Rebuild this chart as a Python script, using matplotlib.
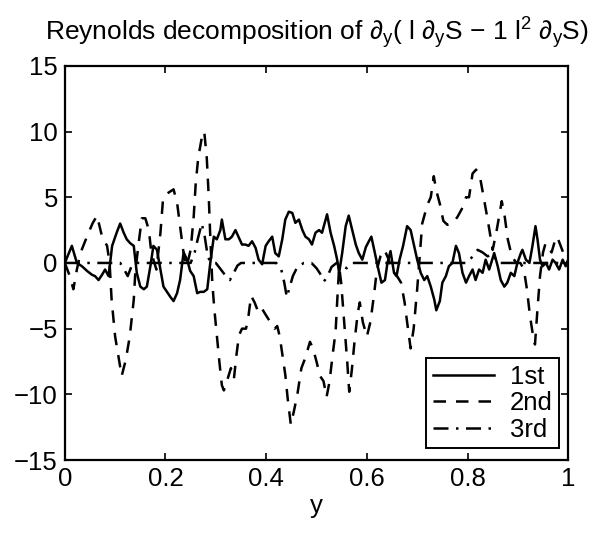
import matplotlib
matplotlib.use("Agg")
import matplotlib.pyplot as plt

plt.rcParams["font.family"] = ["Liberation Sans", "DejaVu Sans"]
plt.rcParams["mathtext.fontset"] = "custom"
plt.rcParams["mathtext.rm"] = "Liberation Sans"
plt.rcParams["mathtext.it"] = "Liberation Sans"
plt.rcParams["mathtext.sf"] = "Liberation Sans"

# ── DATA ─────────────────────────────────────────────────────────────────────

x_first = [0.000, 0.014, 0.024, 0.034, 0.044, 0.054, 0.060, 0.067, 0.074, 0.080,
           0.087, 0.090, 0.094, 0.103, 0.110, 0.117, 0.123, 0.130, 0.137, 0.143,
           0.150, 0.157, 0.163, 0.170, 0.176, 0.183, 0.190, 0.196, 0.203, 0.210,
           0.216, 0.223, 0.229, 0.236, 0.243, 0.249, 0.256, 0.263, 0.269, 0.276,
           0.283, 0.289, 0.296, 0.302, 0.309, 0.312, 0.319, 0.326, 0.332, 0.339,
           0.346, 0.352, 0.359, 0.365, 0.372, 0.379, 0.385, 0.392, 0.399, 0.405,
           0.412, 0.418, 0.425, 0.432, 0.438, 0.445, 0.452, 0.458, 0.465, 0.472,
           0.478, 0.485, 0.491, 0.498, 0.505, 0.511, 0.521, 0.528, 0.535, 0.541,
           0.545, 0.551, 0.558, 0.564, 0.571, 0.578, 0.584, 0.591, 0.598, 0.604,
           0.609, 0.616, 0.623, 0.629, 0.636, 0.641, 0.647, 0.654, 0.659, 0.665,
           0.672, 0.680, 0.687, 0.694, 0.700, 0.707, 0.714, 0.720, 0.727, 0.734,
           0.738, 0.745, 0.750, 0.757, 0.763, 0.770, 0.777, 0.783, 0.790, 0.797,
           0.803, 0.810, 0.816, 0.823, 0.830, 0.836, 0.843, 0.853, 0.860, 0.866,
           0.873, 0.879, 0.886, 0.893, 0.899, 0.906, 0.909, 0.916, 0.923, 0.929,
           0.935, 0.939, 0.944, 0.949, 0.956, 0.962, 0.969, 0.975, 0.982, 0.989,
           0.995, 1.000]
y_first = [0.0, 1.3, 0.0, -0.25, -0.6, -0.9, -1.0, -1.3, -0.9, -0.5,
           -1.0, 0.0, 1.3, 2.3, 3.0, 2.3, 1.8, 1.5, 1.3, -0.75,
           -1.8, -2.0, -1.8, -0.25, 1.3, 1.0, -0.5, -1.8, -2.2, -2.6,
           -2.9, -2.3, -1.3, 0.8, 0.25, -0.6, -1.0, -2.3, -2.2, -2.2,
           -2.0, 0.0, 2.0, 1.8, 2.5, 3.3, 1.8, 1.8, 2.0, 2.5,
           1.9, 1.4, 1.4, 1.3, 1.65, 1.15, 0.25, -0.1, 1.3, 1.65,
           2.0, 0.75, 0.5, 1.8, 3.3, 3.9, 3.8, 3.05, 3.3, 2.5,
           2.0, 1.8, 1.4, 2.3, 2.5, 2.3, 3.7, 2.3, 1.3, 0.25,
           -0.75, 0.75, 2.8, 3.6, 2.5, 1.4, 0.75, 0.25, 1.2, 1.65,
           2.0, 0.75, -0.5, -1.5, -1.3, 0.0, 0.9, -0.75, -1.0, 0.25,
           1.3, 2.8, 2.5, 1.3, 0.25, -0.75, -1.3, -1.0, -1.8, -2.8,
           -3.6, -2.9, -1.5, -1.0, -0.25, 0.0, 1.3, 0.75, -0.75, -1.5,
           -1.0, -0.5, -1.3, -0.5, -0.75, 0.25, -0.5, 0.75, -0.25, -1.3,
           -1.8, -1.5, -0.75, -1.0, 0.0, 0.75, 1.0, 0.25, 0.0, 1.3,
           2.8, 1.8, 0.25, -0.25, 0.0, -0.5, 0.25, 0.0, -0.5, 0.25,
           -0.25, 0.25]

x_second = [0.000, 0.010, 0.017, 0.024, 0.031, 0.044, 0.055, 0.064, 0.074, 0.084,
            0.089, 0.093, 0.100, 0.110, 0.113, 0.121, 0.129, 0.137, 0.140, 0.146,
            0.153, 0.160, 0.167, 0.172, 0.182, 0.190, 0.195, 0.200, 0.216, 0.223,
            0.229, 0.235, 0.242, 0.250, 0.256, 0.260, 0.265, 0.272, 0.277, 0.282,
            0.286, 0.289, 0.293, 0.297, 0.302, 0.307, 0.312, 0.316, 0.322, 0.330,
            0.336, 0.341, 0.346, 0.352, 0.360, 0.365, 0.370, 0.377, 0.385, 0.392,
            0.400, 0.410, 0.417, 0.422, 0.427, 0.432, 0.438, 0.443, 0.449, 0.455,
            0.462, 0.470, 0.478, 0.487, 0.493, 0.500, 0.507, 0.514, 0.520, 0.526,
            0.532, 0.538, 0.541, 0.545, 0.549, 0.553, 0.557, 0.561, 0.565, 0.570,
            0.576, 0.582, 0.586, 0.592, 0.600, 0.607, 0.614, 0.620, 0.627, 0.635,
            0.643, 0.650, 0.660, 0.668, 0.675, 0.680, 0.687, 0.693, 0.700, 0.705,
            0.710, 0.720, 0.727, 0.733, 0.738, 0.745, 0.752, 0.760, 0.770, 0.780,
            0.790, 0.797, 0.803, 0.810, 0.817, 0.825, 0.832, 0.840, 0.850, 0.858,
            0.864, 0.868, 0.874, 0.880, 0.888, 0.897, 0.905, 0.912, 0.918, 0.924,
            0.930, 0.934, 0.939, 0.944, 0.950, 0.955, 0.960, 0.967, 0.973, 0.978,
            0.985, 0.992, 1.000]
y_second = [0.0, -1.0, -2.0, -0.5, 0.75, 2.0, 3.0, 3.6, 2.0, 1.3,
            0.0, -2.8, -5.6, -7.9, -8.6, -7.4, -5.6, -2.8, -0.75, 1.3,
            3.4, 3.4, 2.5, 0.75, -0.5, 2.3, 4.8, 5.2, 5.6, 4.6,
            2.8, 1.0, -0.3, 1.0, 3.5, 6.0, 8.0, 9.5, 10.0, 8.0,
            5.0, 2.0, -1.5, -3.5, -5.5, -7.5, -9.3, -9.7, -9.0, -8.0,
            -8.8, -7.0, -5.5, -5.0, -5.0, -4.0, -2.5, -3.0, -3.8, -3.5,
            -4.0, -4.6, -5.0, -4.8, -5.6, -6.9, -8.5, -10.4, -12.3, -11.3,
            -10.0, -8.0, -7.2, -6.0, -6.5, -7.5, -8.6, -9.0, -10.2, -9.0,
            -7.0, -5.2, -3.0, -0.3, -1.5, -3.5, -5.5, -7.5, -9.8, -8.2,
            -5.8, -3.8, -3.0, -4.5, -5.6, -4.5, -2.5, -0.5, 0.5, 1.0,
            0.3, -0.5, -1.0, -1.5, -3.0, -4.5, -6.5, -5.0, -2.0, 0.5,
            3.0, 4.4, 5.0, 6.6, 5.5, 4.5, 3.2, 2.9, 3.0, 3.5,
            4.2, 5.0, 5.0, 6.8, 7.1, 6.5, 5.0, 3.3, 1.0, 2.5,
            3.8, 4.7, 3.5, 1.8, 0.5, 0.0, 0.0, -0.5, -2.0, -4.0,
            -5.5, -6.2, -3.5, -1.0, 0.8, 1.5, 1.2, 0.8, 1.6, 2.0,
            1.3, 0.6, 0.0]

x_third = [0.000, 0.020, 0.040, 0.060, 0.080, 0.100, 0.110, 0.118, 0.125, 0.132,
           0.140, 0.160, 0.180, 0.200, 0.220, 0.240, 0.250, 0.258, 0.264, 0.272,
           0.278, 0.284, 0.290, 0.300, 0.310, 0.320, 0.328, 0.335, 0.343, 0.350,
           0.370, 0.390, 0.420, 0.430, 0.436, 0.441, 0.447, 0.453, 0.462, 0.475,
           0.490, 0.500, 0.507, 0.515, 0.522, 0.530, 0.540, 0.550, 0.560, 0.570,
           0.600, 0.650, 0.700, 0.750, 0.800, 0.810, 0.820, 0.830, 0.840, 0.850,
           0.860, 0.900, 0.950, 1.000]
y_third = [0.0, 0.0, 0.0, 0.0, 0.0, 0.0, 0.0, -0.5, -1.0, -0.3,
           0.0, 0.0, 0.0, 0.0, 0.0, 0.0, 0.0, 0.8, 1.8, 3.0,
           2.0, 0.5, 0.0, 0.0, -0.5, -1.0, -1.3, -0.8, -0.2, 0.0,
           0.0, 0.0, 0.0, -0.5, -1.5, -2.6, -1.8, -1.0, -0.3, 0.0,
           0.0, -0.4, -0.8, -1.4, -1.0, -0.3, 0.0, -0.2, -0.4, 0.0,
           0.0, 0.0, 0.0, 0.0, 0.0, 0.5, 1.0, 0.8, 0.5, 0.7,
           0.0, 0.0, 0.0, 0.0]

series_labels = ["1st", "2nd", "3rd"]
x_ticks = [0, 0.2, 0.4, 0.6, 0.8, 1]
x_ticklabels = ["0", "0.2", "0.4", "0.6", "0.8", "1"]
y_ticks = [-15, -10, -5, 0, 5, 10, 15]

# ── PLOT ──────────────────────────────────────────────────────────────────────

fig = plt.figure(figsize=(6.0, 5.35), dpi=100)
ax = fig.add_axes([0.108, 0.140, 0.839, 0.737])

ax.plot(x_first, y_first, color="black", lw=1.8, ls="-", label=series_labels[0])
ax.plot(x_second, y_second, color="black", lw=1.8, ls=(0, (5, 4)), label=series_labels[1])
ax.plot(x_third, y_third, color="black", lw=1.8, ls=(0, (6, 3, 1, 3)), label=series_labels[2])

ax.set_xlim(0, 1)
ax.set_ylim(-15, 15)
ax.set_xticks(x_ticks)
ax.set_xticklabels(x_ticklabels)
ax.set_yticks(y_ticks)
ax.tick_params(direction="in", top=True, right=True, length=5, width=1.2,
               labelsize=18.5, pad=5)
for sp in ax.spines.values():
    sp.set_linewidth(1.6)

ax.set_xlabel("y", fontsize=18.5, labelpad=2)
ax.set_title(r"Reynolds decomposition of $\partial_y$( l $\partial_y$S $-$ 1 l$^2$ $\partial_y$S)",
             fontsize=19, pad=18)

leg = ax.legend(loc="lower right", bbox_to_anchor=(0.982, 0.03), fontsize=18.5,
                frameon=True, fancybox=False, handlelength=2.4, borderpad=0.25,
                labelspacing=0.1, handletextpad=0.6, borderaxespad=0)
leg.get_frame().set_edgecolor("black")
leg.get_frame().set_linewidth(1.4)
leg.get_frame().set_alpha(1)

fig.savefig("out.png", dpi=100)
